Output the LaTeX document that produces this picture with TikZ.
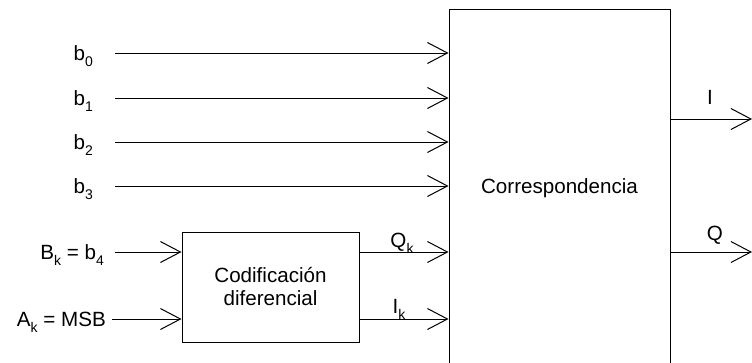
\documentclass[tikz,border=0pt]{standalone}
\usepackage{fontspec}
\setmainfont{Liberation Sans}
\usetikzlibrary{arrows.meta,calc}

% subindice bajado
\newcommand{\sbs}[1]{\raisebox{-0.3em}{\fontsize{14}{14}\selectfont #1}}

\tikzset{
  lbl/.style={inner sep=0pt, text height=15pt, text depth=0pt},
  blk/.style={draw, line width=1pt, inner sep=0pt},
  arr/.style={line width=1pt, -{Straight Barb[length=20pt,width=21pt,line width=1pt]}},
}

\begin{document}
\begin{tikzpicture}[x=1pt,y=-1pt,font=\fontsize{20.6}{23}\selectfont]
\useasboundingbox (0,0) rectangle (752,362);
\clip (0,0) rectangle (752,362);

% bloques
\node[blk, minimum width=221pt, minimum height=358pt] (map) at (559.5,188) {Correspondencia};
\node[blk, minimum width=177pt, minimum height=110pt, align=center] (dif) at (270.5,287) {Codificación\\diferencial};

% bits b0..b3
\foreach \i/\y in {0/53,1/98,2/142,3/186}{
  \node[lbl, anchor=east] (b\i) at (93,\y) {b\sbs{\i}};
  \draw[arr] ([xshift=22pt]b\i.east) -- (b\i -| map.west);
}

% entradas del codificador
\node[lbl, anchor=east] (bk) at (104,252) {B\sbs{k} = b\sbs{4}};
\node[lbl, anchor=east] (ak) at (106,319) {A\sbs{k} = MSB};
\draw[arr] ([xshift=11pt]bk.east) -- (bk -| dif.west);
\draw[arr] ([xshift=6pt]ak.east) -- (ak -| dif.west);

% salidas del codificador
\draw[arr] (dif.east |- bk) -- (bk -| map.west);
\draw[arr] (dif.east |- ak) -- (ak -| map.west);
\node[lbl] (qk) at (402,240) {Q\sbs{k}};
\node[lbl] (ik) at (399,306) {I\sbs{k}};

% salidas I, Q
\coordinate (outI) at (752,119);
\coordinate (outQ) at (752,252);
\draw[arr] (map.east |- outI) -- (outI);
\draw[arr] (map.east |- outQ) -- (outQ);
\node[lbl] (i) at (710,97) {I};
\node[lbl] (q) at (715,233) {Q};
\end{tikzpicture}
\end{document}
